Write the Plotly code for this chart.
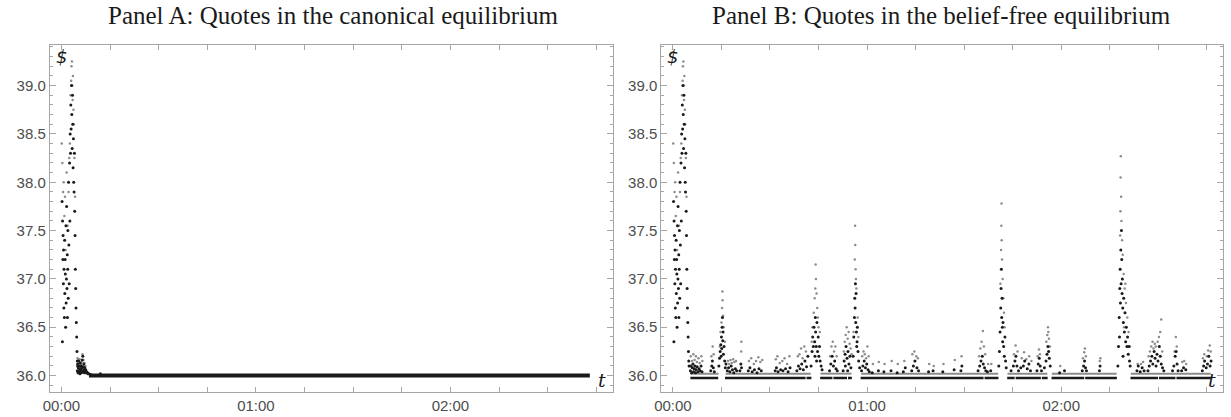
import plotly.graph_objects as go

# ---------------- DATA (minutes since 00:00, price in $) ----------------
tick_minutes = [0, 15, 30, 45, 60, 75, 90, 105, 120, 135, 150, 165]
tick_labels = ["00:00", "", "", "", "01:00", "", "", "", "02:00", "", "", ""]
price_ticks = [36.0, 36.5, 37.0, 37.5, 38.0, 38.5, 39.0]
price_labels = ["36.0", "36.5", "37.0", "37.5", "38.0", "38.5", "39.0"]

# opening burst (same in both panels)
burst_black_t = [0.2, 0.3, 0.35, 0.45, 0.5, 0.6, 0.65, 0.75, 0.8, 0.9, 1.0, 1.05, 1.15, 1.2, 1.3, 1.4,
                 1.45, 1.55, 1.6, 1.7, 1.8, 1.85, 1.95, 2.0, 2.1, 2.2, 2.3, 2.4, 2.5, 2.6, 2.7, 2.8,
                 2.9, 3.0, 3.1, 3.2, 3.3, 3.4, 3.5, 3.6, 3.7, 3.8, 3.9, 4.0, 4.1, 4.2, 4.3, 4.4,
                 4.5, 4.6, 4.7, 4.8, 4.9, 5.0]
burst_black_p = [37.8, 36.35, 37.6, 37.2, 37.45, 36.95, 37.3, 36.7, 37.1, 36.6, 37.4, 36.85, 37.2, 37.05, 36.5, 37.55,
                 36.75, 37.0, 37.75, 36.9, 37.25, 36.6, 37.1, 37.5, 36.8, 38.0, 37.35, 36.95, 38.2, 37.6, 38.5, 38.3,
                 38.8, 38.55, 39.0, 38.7, 38.35, 38.9, 38.6, 38.15, 38.45, 38.0, 37.9, 38.3, 37.7, 37.45, 37.1, 36.9,
                 36.7, 36.55, 36.4, 36.25, 36.15, 36.1]
burst_grey_t = [0.1, 0.3, 0.5, 0.7, 0.9, 1.1, 1.3, 1.6, 1.9, 2.2, 2.4, 2.6, 2.8, 3.0, 3.1, 3.25,
                3.35, 3.45, 3.55, 3.7, 3.8, 4.0, 4.2]
burst_grey_p = [38.4, 38.2, 37.9, 38.0, 37.65, 37.85, 37.3, 38.1, 37.55, 37.9, 38.25, 38.4, 38.9, 39.05, 39.2, 39.25,
                39.0, 38.85, 39.1, 38.75, 38.6, 38.25, 37.85]

# Panel A: settling cluster and flat quote
a_black_t = [4.9, 5.0, 5.1, 5.2, 5.3, 5.4, 5.5, 5.6, 5.7, 5.8, 5.9, 6.0, 6.1, 6.2, 6.3, 6.4, 6.5,
             6.6, 6.7, 6.8, 6.9, 7.0, 7.1, 7.2, 7.3, 7.4, 7.5, 7.6, 7.8, 8.0, 8.2, 8.5, 9.0, 12.0]
a_black_p = [36.05, 36.12, 36.03, 36.08, 36.15, 36.04, 36.1, 36.06, 36.02, 36.13, 36.07, 36.05, 36.1, 36.03,
             36.08, 36.16, 36.05, 36.2, 36.09, 36.04, 36.12, 36.06, 36.03, 36.08, 36.05, 36.04, 36.06, 36.03,
             36.04, 36.03, 36.02, 36.02, 36.01, 36.02]
a_grey_t = [5.0, 5.3, 5.6, 5.9, 6.2, 6.5, 6.8, 7.1, 7.4]
a_grey_p = [36.18, 36.15, 36.17, 36.12, 36.14, 36.22, 36.16, 36.13, 36.1]
a_line_t = [8.5, 163.0]
a_line_p = [36.0, 36.0]

# Panel B: scattered quotes (black = lower, grey = upper)
b_black_t = [5.4, 5.6, 5.8, 6.0, 6.2, 6.4, 6.6, 6.8, 7.0, 7.2, 7.5, 7.8, 8.1, 8.4, 8.7, 9.0,
             11.7, 12.0, 12.2, 12.5, 12.8,
             14.2, 14.4, 14.6, 14.8, 15.0, 15.1, 15.2, 15.4, 15.5, 15.6, 15.8, 16.0, 16.2, 16.4, 15.3, 14.9,
             16.8, 17.2, 17.6, 18.0, 18.4, 18.8, 19.3, 19.7,
             20.7, 21.0, 21.2,
             23.3, 23.8, 24.5, 25.2, 26.0, 26.6, 27.3,
             31.6, 32.0, 32.5, 33.3, 34.0, 34.8, 35.6, 36.2,
             38.3, 38.8, 39.3, 39.8, 40.3, 40.8, 41.3, 41.7,
             42.7, 43.0, 43.2, 43.4, 43.6, 43.8, 44.0, 44.1, 44.3, 44.5, 44.7, 44.9, 45.1, 45.3, 45.5, 45.8, 46.1, 43.9, 44.4,
             48.4, 48.8, 49.2, 49.6, 50.0, 50.4, 50.8,
             52.6, 52.9, 53.2, 53.5, 53.8, 54.1, 54.4, 54.7, 55.0, 53.3, 54.0,
             55.7, 55.9, 56.1, 56.2, 56.3, 56.4, 56.5, 56.6, 56.7, 56.8, 57.0, 57.2, 57.4, 57.7, 56.9,
             58.3, 58.7, 59.1, 59.5, 59.9, 60.3, 60.7,
             61.6, 63.5, 65.2, 67.4, 69.3,
             71.2, 71.8, 73.8, 74.3, 74.8, 75.4, 75.9,
             79.0, 80.4, 83.4, 86.9, 89.0, 89.3,
             94.3, 94.8, 95.2, 95.6, 95.9, 96.3, 96.7, 97.2, 98.2,
             100.7, 100.9, 101.1, 101.3, 101.4, 101.5, 101.6, 101.7, 101.8, 101.9, 102.0, 102.2, 102.4, 102.6, 102.8, 103.0,
             104.5, 105.2, 105.7, 106.0, 106.3, 106.8, 107.5, 108.3, 108.7, 109.5, 110.0, 110.5,
             112.5, 112.9, 113.2, 113.5, 113.9, 114.8, 115.3, 115.6, 115.9, 116.1, 116.3, 116.6,
             119.5, 121.0,
             126.5, 126.9, 127.2, 127.5, 127.8,
             131.8, 132.0,
             137.5, 137.7, 137.9, 138.1, 138.2, 138.3, 138.4, 138.5, 138.6, 138.7, 138.8, 138.9, 139.0, 139.2, 139.3,
             139.5, 139.7, 139.9, 140.1, 140.3, 140.5, 140.7, 140.9, 141.1, 141.3, 138.0, 139.1,
             143.4, 143.8, 144.4, 145.0, 145.6,
             146.8, 147.2, 147.6, 148.0, 148.3, 148.7, 149.0, 149.3, 149.6, 149.9, 150.3, 150.6, 150.9, 151.3, 151.7,
             154.4, 154.8, 155.2, 155.5, 155.8, 156.1,
             157.2, 157.8, 158.5,
             163.6, 164.0, 164.3, 164.8, 165.2, 165.6, 166.0, 166.3]
b_black_p = [36.05, 36.1, 36.03, 36.08, 36.12, 36.04, 36.07, 36.1, 36.03, 36.06, 36.09, 36.04, 36.07, 36.05, 36.1, 36.04,
             36.05, 36.1, 36.15, 36.08, 36.04,
             36.1, 36.18, 36.25, 36.32, 36.4, 36.28, 36.5, 36.36, 36.45, 36.22, 36.3, 36.15, 36.08, 36.12, 36.6, 36.2,
             36.05, 36.08, 36.04, 36.1, 36.06, 36.03, 36.07, 36.05,
             36.05, 36.12, 36.08,
             36.05, 36.08, 36.04, 36.06, 36.03, 36.07, 36.05,
             36.05, 36.08, 36.04, 36.06, 36.05, 36.07, 36.04, 36.08,
             36.05, 36.1, 36.07, 36.12, 36.06, 36.15, 36.09, 36.2,
             36.1, 36.25, 36.4, 36.3, 36.5, 36.35, 36.6, 36.45, 36.3, 36.55, 36.25, 36.4, 36.2, 36.3, 36.15, 36.1, 36.06, 36.2, 36.15,
             36.05, 36.12, 36.2, 36.1, 36.15, 36.07, 36.05,
             36.05, 36.15, 36.22, 36.3, 36.18, 36.25, 36.12, 36.2, 36.08, 36.1, 36.05,
             36.2, 36.4, 36.6, 36.8, 36.7, 36.95, 36.55, 36.85, 36.45, 36.3, 36.5, 36.25, 36.15, 36.08, 36.35,
             36.05, 36.1, 36.15, 36.08, 36.12, 36.06, 36.04,
             36.03, 36.05, 36.04, 36.05, 36.03,
             36.04, 36.08, 36.05, 36.1, 36.15, 36.08, 36.05,
             36.04, 36.05, 36.04, 36.06, 36.05, 36.1,
             36.05, 36.1, 36.15, 36.2, 36.12, 36.08, 36.05, 36.04, 36.05,
             36.1, 36.25, 36.45, 36.7, 36.9, 37.1, 36.6, 36.8, 36.5, 36.35, 36.55, 36.3, 36.2, 36.4, 36.15, 36.08,
             36.05, 36.1, 36.15, 36.2, 36.1, 36.05, 36.08, 36.1, 36.15, 36.07, 36.12, 36.05,
             36.05, 36.12, 36.18, 36.1, 36.05, 36.08, 36.15, 36.22, 36.3, 36.25, 36.18, 36.1,
             36.03, 36.05,
             36.05, 36.1, 36.15, 36.08, 36.05,
             36.05, 36.1,
             36.1, 36.3, 36.6, 36.9, 37.1, 36.75, 37.3, 36.95, 37.5, 37.2, 36.85, 37.0, 36.7, 36.55, 36.8,
             36.45, 36.65, 36.35, 36.5, 36.3, 36.4, 36.22, 36.3, 36.15, 36.1, 36.4, 36.2,
             36.05, 36.1, 36.04, 36.08, 36.05,
             36.05, 36.1, 36.15, 36.2, 36.12, 36.25, 36.18, 36.1, 36.22, 36.15, 36.3, 36.2, 36.12, 36.08, 36.05,
             36.05, 36.1, 36.2, 36.25, 36.12, 36.05,
             36.05, 36.08, 36.06,
             36.05, 36.1, 36.15, 36.08, 36.12, 36.2, 36.1, 36.15]
b_grey_t = [5.5, 5.9, 6.3, 6.7, 7.1, 7.4, 7.9, 8.3, 8.8, 9.1,
            11.9, 12.3, 12.6,
            14.7, 15.0, 15.2, 15.3, 15.35, 15.5, 15.7, 16.1, 14.5,
            17.0, 17.4, 17.8, 18.2, 18.6, 19.0, 19.5,
            21.1, 21.15,
            23.5, 24.2, 25.0, 25.7, 26.4, 27.0, 27.6,
            31.8, 32.3, 33.0, 33.8, 34.5, 35.3, 36.0,
            38.6, 39.1, 39.6, 40.1, 40.6, 41.1,
            43.1, 43.5, 43.8, 44.0, 44.1, 44.2, 44.4, 44.6, 44.8, 45.0, 45.4, 42.9,
            48.6, 49.0, 49.4, 49.8, 50.2, 50.6,
            52.8, 53.1, 53.4, 53.7, 54.0, 54.3, 54.6, 54.9, 55.2,
            56.2, 56.3, 56.35, 56.45, 56.55, 56.7, 57.1, 57.3, 55.8,
            58.5, 58.9, 59.3, 59.7, 60.1, 60.5,
            61.8, 63.6, 65.4, 67.6, 69.5,
            71.5, 74.0, 74.6, 75.2, 75.7,
            79.2, 80.6, 83.6, 87.1, 89.2,
            94.6, 95.0, 95.4, 95.8, 96.1, 96.5, 97.4, 98.4,
            101.2, 101.4, 101.5, 101.55, 101.6, 101.7, 101.9, 102.1, 102.3, 102.5,
            105.4, 105.9, 106.5, 107.8, 108.5, 109.2, 110.1, 110.8,
            112.7, 113.1, 113.4, 115.4, 115.7, 115.9, 116.0, 116.2, 116.5,
            119.7,
            126.7, 127.1, 127.3, 127.6,
            131.9, 132.1,
            138.2, 138.3, 138.35, 138.4, 138.5, 138.6, 138.8, 139.0, 139.3, 139.6, 139.8, 140.0, 140.4, 140.8, 141.2, 139.4,
            143.6, 144.6, 145.3,
            147.0, 147.4, 147.8, 148.2, 148.5, 148.9, 149.2, 149.8, 150.2, 150.9, 150.6, 151.2,
            155.0, 155.4, 155.7,
            157.4, 158.0, 158.6,
            163.8, 164.2, 165.0, 165.4, 165.9, 166.2]
b_grey_p = [36.2, 36.15, 36.22, 36.16, 36.2, 36.14, 36.18, 36.13, 36.2, 36.15,
            36.2, 36.3, 36.22,
            36.45, 36.55, 36.7, 36.87, 36.78, 36.62, 36.5, 36.35, 36.3,
            36.15, 36.12, 36.16, 36.13, 36.17, 36.14, 36.15,
            36.25, 36.35,
            36.15, 36.18, 36.12, 36.15, 36.19, 36.14, 36.16,
            36.17, 36.2, 36.13, 36.15, 36.18, 36.12, 36.2,
            36.2, 36.22, 36.28, 36.18, 36.3, 36.25,
            36.5, 36.65, 36.8, 36.9, 37.15, 37.0, 36.85, 36.7, 36.6, 36.5, 36.45, 36.35,
            36.2, 36.3, 36.35, 36.25, 36.3, 36.2,
            36.25, 36.35, 36.42, 36.5, 36.38, 36.45, 36.33, 36.28, 36.22,
            37.2, 37.55, 37.35, 37.1, 37.0, 36.9, 36.6, 36.4, 36.45,
            36.2, 36.25, 36.22, 36.18, 36.3, 36.2,
            36.12, 36.14, 36.12, 36.15, 36.12,
            36.15, 36.22, 36.25, 36.2, 36.18,
            36.12, 36.1, 36.12, 36.16, 36.2,
            36.2, 36.28, 36.35, 36.46, 36.3, 36.22, 36.12, 36.12,
            36.95, 37.3, 37.55, 37.78, 37.4, 37.2, 37.0, 36.8, 36.65, 36.5,
            36.22, 36.31, 36.25, 36.18, 36.24, 36.17, 36.2, 36.15,
            36.2, 36.27, 36.22, 36.35, 36.42, 36.5, 36.45, 36.38, 36.3,
            36.1,
            36.18, 36.24, 36.28, 36.2,
            36.15, 36.18,
            37.45, 37.7, 38.05, 38.27, 37.85, 37.6, 37.4, 37.25, 37.05, 36.9, 36.95, 36.75, 36.6, 36.45, 36.3, 36.5,
            36.12, 36.12, 36.14,
            36.2, 36.25, 36.3, 36.35, 36.28, 36.33, 36.3, 36.35, 36.4, 36.58, 36.45, 36.25,
            36.25, 36.4, 36.3,
            36.14, 36.15, 36.12,
            36.18, 36.22, 36.2, 36.26, 36.31, 36.25]

# Panel B: flat quote levels, given as (start, end) minute segments
b_low_start = [5.4, 16.1, 41.3, 45.5, 49.6, 54.1, 58.0, 96.3, 103.3, 105.9, 114.0, 117.0, 127.4, 141.4, 150.2, 155.6]
b_low_end = [14.0, 41.0, 42.8, 49.3, 53.8, 55.3, 96.0, 100.6, 105.6, 113.7, 115.8, 127.1, 137.2, 149.9, 155.3, 166.2]
b_low_price = 35.975
b_high_start = [5.4, 16.3, 45.6, 58.2, 103.4, 117.1, 141.5]
b_high_end = [14.1, 42.6, 55.2, 100.5, 115.7, 137.1, 166.2]
b_high_price = 36.02


def segments(starts, ends, level):
    xs, ys = [], []
    for s, e in zip(starts, ends):
        xs += [s, e, None]
        ys += [level, level, None]
    return xs, ys


BLACK = "#1a1a1a"
GREY = "#8c8c8c"

fig = go.Figure()

# ---- Panel A ----
fig.add_trace(go.Scatter(x=a_line_t, y=a_line_p, mode="lines", line=dict(color=BLACK, width=4),
                         xaxis="x", yaxis="y", hoverinfo="skip"))
fig.add_trace(go.Scatter(x=burst_grey_t + a_grey_t, y=burst_grey_p + a_grey_p, mode="markers",
                         marker=dict(color=GREY, size=2.5), xaxis="x", yaxis="y"))
fig.add_trace(go.Scatter(x=burst_black_t + a_black_t, y=burst_black_p + a_black_p, mode="markers",
                         marker=dict(color=BLACK, size=3), xaxis="x", yaxis="y"))

# ---- Panel B ----
hx, hy = segments(b_high_start, b_high_end, b_high_price)
lx, ly = segments(b_low_start, b_low_end, b_low_price)
fig.add_trace(go.Scatter(x=hx, y=hy, mode="lines", line=dict(color=GREY, width=2),
                         xaxis="x2", yaxis="y2", hoverinfo="skip"))
fig.add_trace(go.Scatter(x=lx, y=ly, mode="lines", line=dict(color=BLACK, width=2.5),
                         xaxis="x2", yaxis="y2", hoverinfo="skip"))
fig.add_trace(go.Scatter(x=burst_grey_t + b_grey_t, y=burst_grey_p + b_grey_p, mode="markers",
                         marker=dict(color=GREY, size=2.5), xaxis="x2", yaxis="y2"))
fig.add_trace(go.Scatter(x=burst_black_t + b_black_t, y=burst_black_p + b_black_p, mode="markers",
                         marker=dict(color=BLACK, size=3), xaxis="x2", yaxis="y2"))

FRAME = "#a6a6a6"
tickfont = dict(family="Liberation Sans, Arial, sans-serif", size=15, color="#4d4d4d")
xcommon = dict(range=[-3.6, 170.0], tickmode="array", tickvals=tick_minutes, ticktext=tick_labels,
               ticks="inside", ticklen=5, tickcolor=FRAME, showline=True, linecolor=FRAME, linewidth=1,
               mirror="ticks", showgrid=False, zeroline=False, tickfont=tickfont, fixedrange=True)
ycommon = dict(range=[35.83, 39.42], tickmode="array", tickvals=price_ticks, ticktext=price_labels,
               ticks="inside", ticklen=6, tickcolor=FRAME, showline=True, linecolor=FRAME, linewidth=1,
               mirror="ticks", showgrid=False, zeroline=False, tickfont=tickfont, fixedrange=True,
               minor=dict(dtick=0.1, tick0=36.0, ticks="inside", ticklen=3, tickcolor=FRAME, showgrid=False))

W, H = 1231, 417
fig.update_layout(
    width=W, height=H, margin=dict(l=0, r=0, t=0, b=0),
    paper_bgcolor="white", plot_bgcolor="white", showlegend=False, hovermode=False,
    xaxis=dict(domain=[43 / W, 609 / W], anchor="y", **xcommon),
    yaxis=dict(domain=[1 - 392 / H, 1 - 45 / H], anchor="x", **ycommon),
    xaxis2=dict(domain=[658 / W, 1223 / W], anchor="y2", **xcommon),
    yaxis2=dict(domain=[1 - 392 / H, 1 - 45 / H], anchor="x2", **ycommon),
)

titlefont = dict(family="Liberation Serif, Times New Roman, serif", size=25, color="#1a1a1a")
fig.add_annotation(text="Panel A: Quotes in the canonical equilibrium", xref="paper", yref="paper",
                   x=328 / W, y=1 - 16 / H, xanchor="center", yanchor="middle", showarrow=False, font=titlefont)
fig.add_annotation(text="Panel B: Quotes in the belief-free equilibrium", xref="paper", yref="paper",
                   x=940 / W, y=1 - 16 / H, xanchor="center", yanchor="middle", showarrow=False, font=titlefont)

labfont = dict(family="DejaVu Sans, sans-serif", size=18, color="#1a1a1a")
for xr, yr in (("x", "y"), ("x2", "y2")):
    fig.add_annotation(text="<i>$</i>", xref=xr, yref=yr, x=0, y=39.3, showarrow=False,
                       xanchor="center", yanchor="middle", font=labfont)
    fig.add_annotation(text="<i>t</i>", xref=xr, yref=yr, x=166.6, y=35.95, showarrow=False,
                       xanchor="center", yanchor="middle",
                       font=dict(family="DejaVu Serif, serif", size=19, color="#1a1a1a"))

fig.write_html("out.html", config={"displayModeBar": False},
               post_script="document.body.style.margin='0px';")
